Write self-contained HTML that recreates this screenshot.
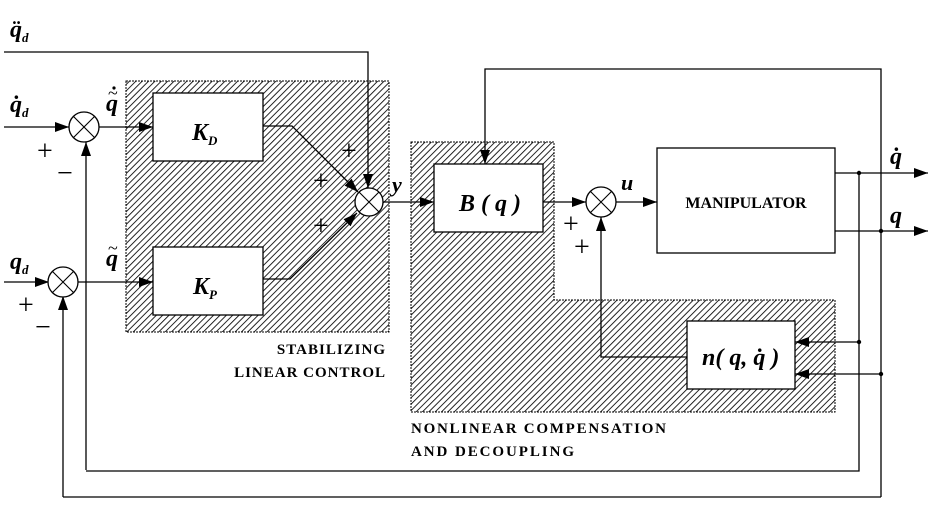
<!DOCTYPE html>
<html><head><meta charset="utf-8"><style>
html,body{margin:0;padding:0;background:#fff}
svg{display:block}
text{font-family:"Liberation Serif",serif}
.it{font-style:italic;font-weight:bold}
</style></head><body>
<svg width="928" height="508" viewBox="0 0 928 508" xmlns="http://www.w3.org/2000/svg">
<defs>
<pattern id="h" patternUnits="userSpaceOnUse" width="4.5" height="4.5" patternTransform="rotate(45)">
<rect width="4.5" height="4.5" fill="#fff"/>
<line x1="0" y1="0" x2="0" y2="4.5" stroke="#000" stroke-width="1.7"/>
</pattern>
<marker id="a" markerWidth="14" markerHeight="10" refX="14" refY="5" orient="auto" markerUnits="userSpaceOnUse">
<path d="M0,0 L14,5 L0,10 z" fill="#000"/>
</marker>
</defs>
<rect x="126" y="81" width="263" height="251" fill="url(#h)" stroke="#000" stroke-width="1" stroke-dasharray="2,1"/>
<path d="M411,142 H554 V300 H835 V412 H411 Z" fill="url(#h)" stroke="#000" stroke-width="1" stroke-dasharray="2,1"/>

<g stroke="#000" stroke-width="1.3" fill="none">
<path d="M4,52 H368 V188" marker-end="url(#a)"/>
<path d="M4,127 H69" marker-end="url(#a)"/>
<path d="M99,127 H153" marker-end="url(#a)"/>
<path d="M86,470 V142" marker-end="url(#a)"/>
<path d="M4,282 H49" marker-end="url(#a)"/>
<path d="M77,282 H153" marker-end="url(#a)"/>
<path d="M63,497 V296" marker-end="url(#a)"/>
<path d="M263,126 H292 L358,192" marker-end="url(#a)"/>
<path d="M263,279 H290 L357,213" marker-end="url(#a)"/>
<path d="M383,202 H434" marker-end="url(#a)"/>
<path d="M881,497 V69 H485 V164" marker-end="url(#a)"/>
<path d="M543,202 H586" marker-end="url(#a)"/>
<path d="M615,202 H657" marker-end="url(#a)"/>
<path d="M687,357 H601 V217" marker-end="url(#a)"/>
<path d="M835,173 H928" marker-end="url(#a)"/>
<path d="M835,231 H928" marker-end="url(#a)"/>
<path d="M859,173 V471 H86"/>
<path d="M881,497 H63"/>
<path d="M859,342 H795" marker-end="url(#a)"/>
<path d="M881,374 H795" marker-end="url(#a)"/>
</g>
<g fill="#000"><circle cx="859" cy="173" r="2.2"/><circle cx="881" cy="231" r="2.2"/><circle cx="859" cy="342" r="2.2"/><circle cx="881" cy="374" r="2.2"/></g>

<g stroke="#000" stroke-width="1.3" fill="#fff">
<circle cx="84" cy="127" r="15"/>
<circle cx="63" cy="282" r="15"/>
<circle cx="369" cy="202" r="14"/>
<circle cx="601" cy="202" r="15"/>
</g>
<g stroke="#000" stroke-width="1.1">
<path d="M73.4,116.4 L94.6,137.6 M94.6,116.4 L73.4,137.6"/>
<path d="M52.4,271.4 L73.6,292.6 M73.6,271.4 L52.4,292.6"/>
<path d="M359,192 L379,212 M379,192 L359,212"/>
<path d="M590.4,191.4 L611.6,212.6 M611.6,191.4 L590.4,212.6"/>
</g>

<g stroke="#000" stroke-width="1.3" fill="#fff">
<rect x="153" y="93" width="110" height="68"/>
<rect x="153" y="247" width="110" height="68"/>
<rect x="434" y="164" width="109" height="68"/>
<rect x="657" y="148" width="178" height="105"/>
<rect x="687" y="321" width="108" height="68"/>
</g>

<text x="192" y="140" class="it" font-size="24">K<tspan font-size="13" dy="5">D</tspan></text>
<text x="193" y="294" class="it" font-size="24">K<tspan font-size="13" dy="5">P</tspan></text>
<text x="459" y="211" class="it" font-size="24">B ( q )</text>
<text x="746" y="208" font-size="16" font-weight="bold" text-anchor="middle">MANIPULATOR</text>
<text x="702" y="365" class="it" font-size="24">n( q, q̇ )</text>

<text x="10" y="37" class="it" font-size="24">q̈<tspan font-size="13" dy="5">d</tspan></text>
<text x="10" y="112" class="it" font-size="24">q̇<tspan font-size="13" dy="5">d</tspan></text>
<text x="10" y="269" class="it" font-size="24">q<tspan font-size="13" dy="5">d</tspan></text>
<text x="106" y="111" class="it" font-size="24">q</text>
<text x="108" y="99" font-size="18">~</text>
<circle cx="114" cy="88" r="1.6" fill="#000"/>
<text x="106" y="266" class="it" font-size="24">q</text>
<text x="108" y="254" font-size="18">~</text>
<text x="392" y="192" class="it" font-size="22">y</text>
<text x="621" y="190" class="it" font-size="22">u</text>
<text x="890" y="164" class="it" font-size="24">q̇</text>
<text x="890" y="223" class="it" font-size="24">q</text>

<g font-size="28" font-family="Liberation Sans,sans-serif" font-weight="normal">
<text x="37" y="160">+</text><text x="57" y="182">−</text>
<text x="18" y="314">+</text><text x="35" y="336">−</text>
<text x="341" y="160">+</text><text x="313" y="190">+</text><text x="313" y="235">+</text>
<text x="563" y="233">+</text><text x="574" y="256">+</text>
</g>

<g font-size="15" font-weight="bold" letter-spacing="1">
<text x="386" y="354" text-anchor="end">STABILIZING</text>
<text x="386" y="377" text-anchor="end">LINEAR  CONTROL</text>
<text x="411" y="433" textLength="256">NONLINEAR  COMPENSATION</text>
<text x="411" y="456" textLength="164">AND  DECOUPLING</text>
</g>
</svg>
</body></html>
